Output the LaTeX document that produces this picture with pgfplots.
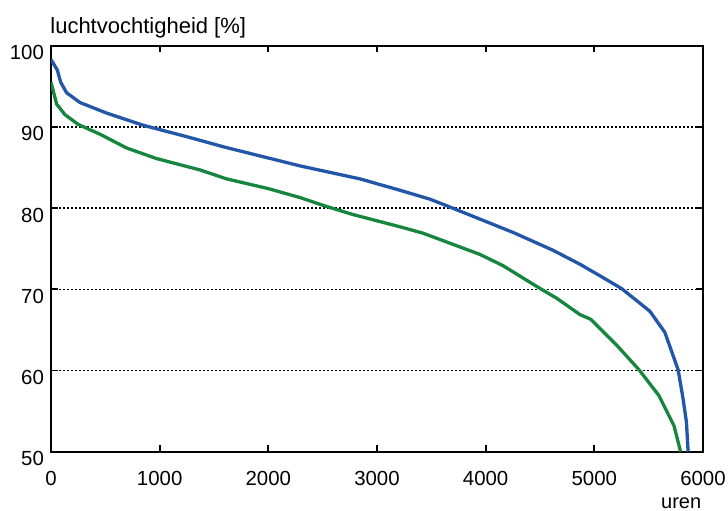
\documentclass[border=0pt]{standalone}
\usepackage{fontspec}
\setmainfont{Liberation Sans}
\usepackage{pgfplots}
\pgfplotsset{compat=1.18}
\definecolor{cblue}{RGB}{33,86,168}
\definecolor{cgreen}{RGB}{22,134,62}
\begin{document}
\begin{tikzpicture}
\useasboundingbox (-25.5pt,-29.15pt) rectangle (338.5pt,225.85pt);
\begin{axis}[
  at={(0,0)}, anchor=south west,
  scale only axis, width=326pt, height=203pt,
  xmin=0, xmax=6000, ymin=50, ymax=100,
  xtick={0,1000,2000,3000,4000,5000,6000},
  ytick={50,60,70,80,90,100},
  /pgf/number format/assume math mode=true,
  /pgf/number format/1000 sep={},
  tick align=inside,
  major tick length=3.3pt,
  every tick/.style={black, line width=0.9pt},
  axis line style={line width=1pt},
  ymajorgrids,
  major grid style={black, line width=0.75pt, dash pattern=on 1pt off 1pt},
  tick label style={font=\fontsize{10.2}{12}\selectfont},
  xticklabel style={yshift=-6pt},
  yticklabel style={yshift=-3.5pt},
  xlabel={uren}, ylabel={luchtvochtigheid [\%]},
  every axis x label/.style={at={(rel axis cs:1,0)}, anchor=base east, inner sep=0pt, yshift=-28.2pt, xshift=-0.7pt, font=\fontsize{10}{12}\selectfont},
  every axis y label/.style={at={(rel axis cs:0,1)}, anchor=base west, inner sep=0pt, yshift=6.2pt, xshift=-0.5pt, font=\fontsize{11}{13}\selectfont},
]
\addplot[cblue, line width=1.65pt, line join=round] coordinates {
(0,98.3)(58,97.0)(89,95.5)(144,94.2)(267,93.0)(512,91.7)(849,90.2)(1248,88.8)(1601,87.5)(2291,85.2)(2843,83.6)(3211,82.2)(3487,81.1)(3640,80.3)(4253,77.0)(4621,74.8)(4866,73.1)(5060,71.6)(5250,70.1)(5511,67.3)(5649,64.7)(5771,60.1)(5817,56.5)(5848,53.6)(5863,50)
};
\addplot[cgreen, line width=1.65pt, line join=round] coordinates {
(0,95.5)(52,92.8)(129,91.5)(251,90.3)(451,89.1)(696,87.4)(972,86.1)(1371,84.7)(1616,83.6)(2000,82.4)(2291,81.3)(2536,80.2)(2781,79.2)(3211,77.7)(3426,76.9)(3947,74.3)(4161,72.9)(4501,70.1)(4654,68.9)(4866,66.9)(4968,66.3)(5214,63.0)(5411,60.1)(5595,56.9)(5733,53.2)(5794,50)
};
\end{axis}
\end{tikzpicture}
\end{document}
